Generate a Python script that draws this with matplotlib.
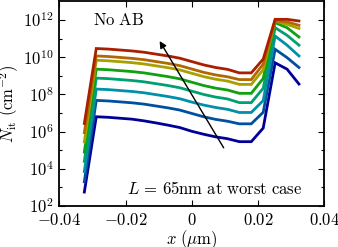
import numpy as np
import matplotlib
matplotlib.use('Agg')
import matplotlib.pyplot as plt
from matplotlib.ticker import FuncFormatter, FixedLocator, NullFormatter

plt.rcParams['mathtext.fontset'] = 'cm'
plt.rcParams['font.family'] = 'serif'
plt.rcParams['font.size'] = 12

# position along the channel (um)
x_um = [-0.0325, -0.0289, -0.0253, -0.0217, -0.0181, -0.0145, -0.0109, -0.0073,
        -0.0037, -0.0001, 0.0035, 0.0071, 0.0107, 0.0143, 0.0179, 0.0215,
        0.0251, 0.0287, 0.0323]

# log10(N_it), lowest curve first
log_nit = [
    [2.75, 6.80, 6.77, 6.72, 6.67, 6.58, 6.47, 6.35, 6.22, 6.02, 5.86, 5.72, 5.62, 5.46, 5.46, 6.19, 9.70, 9.36, 8.56],
    [3.30, 7.68, 7.65, 7.60, 7.55, 7.48, 7.38, 7.28, 7.16, 6.98, 6.80, 6.66, 6.56, 6.42, 6.42, 7.04, 10.43, 9.98, 9.45],
    [3.85, 8.29, 8.26, 8.21, 8.16, 8.09, 7.99, 7.89, 7.77, 7.59, 7.43, 7.30, 7.20, 7.03, 7.03, 7.67, 11.14, 10.65, 10.07],
    [4.40, 8.88, 8.85, 8.80, 8.75, 8.68, 8.58, 8.48, 8.36, 8.18, 8.00, 7.86, 7.76, 7.56, 7.56, 8.33, 11.59, 11.18, 10.65],
    [4.90, 9.36, 9.33, 9.28, 9.23, 9.16, 9.06, 8.96, 8.84, 8.66, 8.48, 8.34, 8.24, 8.06, 8.06, 8.86, 11.86, 11.59, 11.09],
    [5.45, 9.84, 9.81, 9.76, 9.71, 9.64, 9.54, 9.44, 9.32, 9.14, 8.96, 8.82, 8.72, 8.54, 8.54, 9.33, 11.95, 11.77, 11.55],
    [5.95, 10.07, 10.04, 9.99, 9.94, 9.87, 9.77, 9.67, 9.55, 9.37, 9.19, 9.05, 8.95, 8.80, 8.80, 9.63, 11.97, 11.90, 11.72],
    [6.44, 10.47, 10.44, 10.39, 10.34, 10.27, 10.17, 10.07, 9.95, 9.77, 9.59, 9.45, 9.35, 9.16, 9.16, 9.90, 12.04, 12.04, 11.95],
]

colors = ['#000099', '#0050a0', '#0090a8', '#00a070', '#10a010',
          '#a8a000', '#b06800', '#a82000']

fig = plt.figure(figsize=(3.38, 2.47), dpi=100)
ax = fig.add_axes([0.176, 0.166, 0.784, 0.828])

for vals, c in zip(log_nit, colors):
    ax.plot(x_um, 10 ** np.array(vals), color=c, lw=2.0, solid_joinstyle='miter')

ax.set_yscale('log')
ax.set_xlim(-0.04, 0.04)
ax.set_ylim(1e2, 1e13)

ax.yaxis.set_major_locator(FixedLocator([1e2, 1e4, 1e6, 1e8, 1e10, 1e12]))
ax.yaxis.set_minor_locator(FixedLocator([1e3, 1e5, 1e7, 1e9, 1e11]))
ax.yaxis.set_major_formatter(FuncFormatter(lambda v, p: r'$10^{%d}$' % round(np.log10(v))))
ax.yaxis.set_minor_formatter(NullFormatter())
ax.xaxis.set_major_locator(FixedLocator([-0.04, -0.02, 0, 0.02, 0.04]))
ax.xaxis.set_major_formatter(FuncFormatter(lambda v, p: r'$0$' if abs(v) < 1e-9 else r'$%.2f$' % v))

ax.tick_params(which='both', direction='in', top=True, right=True, labelsize=12, pad=4)
ax.tick_params(which='major', length=4, width=0.8)
ax.tick_params(which='minor', length=2.5, width=0.8)
for s in ax.spines.values():
    s.set_linewidth(1.3)

ax.set_xlabel(r'$x\ (\mathrm{\mu m})$', fontsize=12, labelpad=0)
ax.set_ylabel(r'$N_{\mathrm{it}}\ (\mathrm{cm}^{-2})$', fontsize=12, labelpad=0)
ax.yaxis.set_label_coords(-0.145, 0.5)

ax.annotate('', xy=(-0.0102, 1e11), xytext=(0.010, 1e5),
            arrowprops=dict(arrowstyle='-|>', color='black', lw=1.0, mutation_scale=10))
ax.text(-0.0299, 10 ** 12.0, r'$\mathrm{No\ AB}$', fontsize=12, va='center', ha='left')
ax.text(-0.0196, 10 ** 2.9, r'$L\,=\,65\mathrm{nm\ at\ worst\ case}$', fontsize=12, va='center', ha='left')

fig.savefig('out.png', dpi=100)
